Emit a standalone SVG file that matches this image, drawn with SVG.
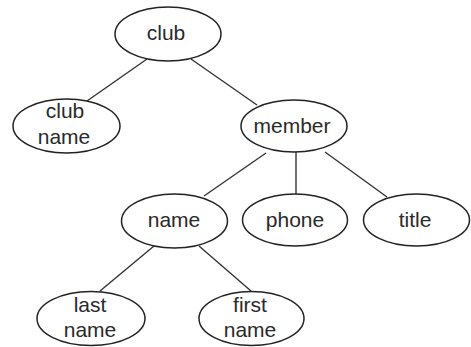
<svg xmlns="http://www.w3.org/2000/svg" width="471" height="347" viewBox="0 0 471 347">
  <style>
    .node ellipse { fill: #ffffff; stroke: #222222; stroke-width: 1.5; }
    .node text { font-family: "Liberation Sans", Arial, sans-serif; font-size: 21px; fill: #2a2a2a; text-anchor: middle; }
    #edges line { stroke: #333333; stroke-width: 1.4; }
  </style>
  <rect width="471" height="347" fill="#ffffff"/>

  <!-- tree edges -->
  <g id="edges">
    <line x1="147" y1="59" x2="87" y2="101"/>
    <line x1="191" y1="59" x2="257" y2="105"/>
    <line x1="266" y1="153" x2="204" y2="196"/>
    <line x1="296" y1="152" x2="296" y2="195"/>
    <line x1="325" y1="152" x2="387" y2="197"/>
    <line x1="154" y1="246" x2="100" y2="291"/>
    <line x1="199" y1="246" x2="251" y2="291"/>
  </g>

  <g id="club" class="node">
    <ellipse cx="168" cy="34" rx="53" ry="27"/>
    <text x="166" y="40">club</text>
  </g>
  <g id="club-name" class="node">
    <ellipse cx="66.5" cy="126" rx="53.5" ry="27"/>
    <text x="65" y="118">club</text>
    <text x="64" y="144">name</text>
  </g>
  <g id="member" class="node">
    <ellipse cx="294" cy="126" rx="53" ry="26"/>
    <text x="292" y="133">member</text>
  </g>
  <g id="name" class="node">
    <ellipse cx="174.5" cy="221" rx="53" ry="27"/>
    <text x="174" y="227">name</text>
  </g>
  <g id="phone" class="node">
    <ellipse cx="295" cy="220" rx="52.5" ry="26"/>
    <text x="295" y="227">phone</text>
  </g>
  <g id="title" class="node">
    <ellipse cx="416.5" cy="220" rx="53" ry="26"/>
    <text x="415" y="227">title</text>
  </g>
  <g id="last-name" class="node">
    <ellipse cx="91" cy="318.5" rx="54" ry="27"/>
    <text x="90" y="312">last</text>
    <text x="90" y="337">name</text>
  </g>
  <g id="first-name" class="node">
    <ellipse cx="251.5" cy="318.5" rx="52.5" ry="27"/>
    <text x="250" y="312">first</text>
    <text x="250" y="337">name</text>
  </g>
</svg>
